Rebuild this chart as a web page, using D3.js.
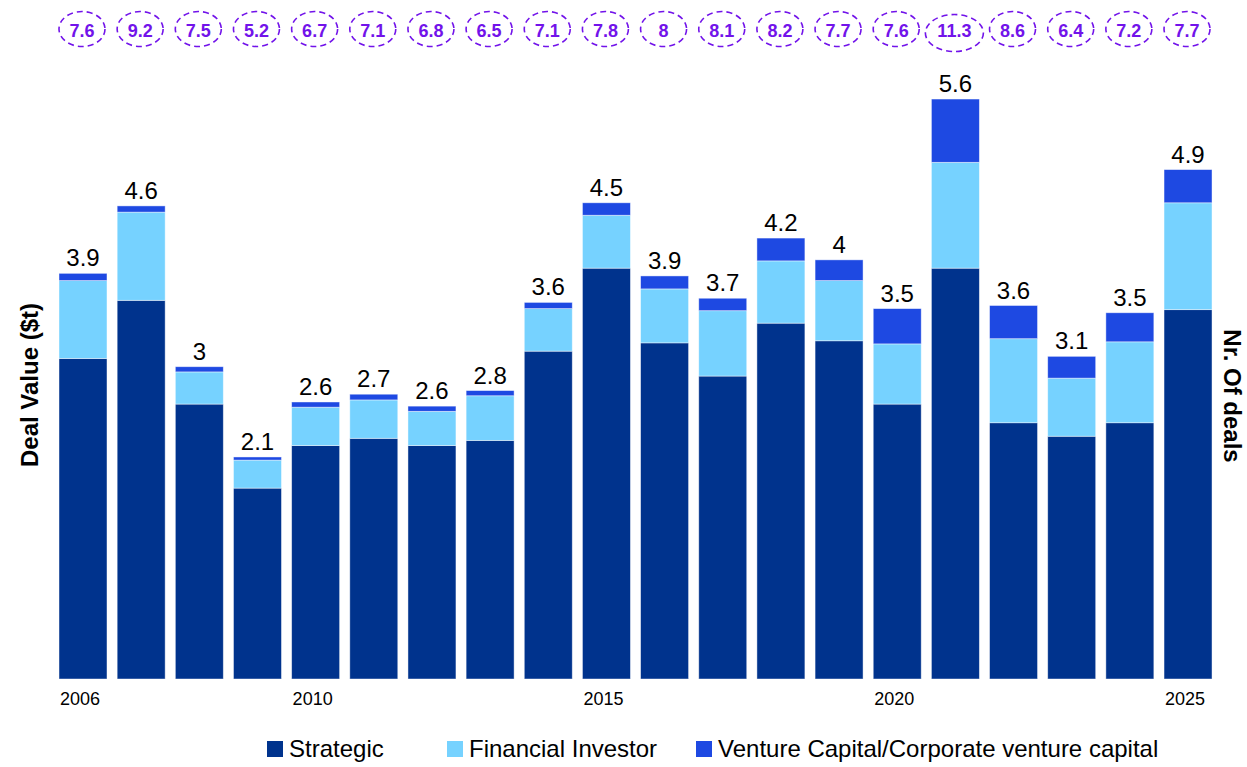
<!DOCTYPE html>
<html>
<head>
<meta charset="utf-8">
<script src="https://cdn.jsdelivr.net/npm/d3@7/dist/d3.min.js"></script>
<style>
  html, body { margin: 0; padding: 0; background: #fff; }
  svg { display: block; font-family: Arial, "Liberation Sans", Helvetica, sans-serif; }
</style>
</head>
<body>
<svg id="chart" width="1247" height="767"></svg>
<script>
const years = [2006,2007,2008,2009,2010,2011,2012,2013,2014,2015,2016,2017,2018,2019,2020,2021,2022,2023,2024,2025];
const tickYears = [2006, 2010, 2015, 2020, 2025];
const strategic = [3.09,3.65,2.65,1.84,2.25,2.32,2.25,2.30,3.16,3.96,3.24,2.92,3.43,3.26,2.65,3.96,2.47,2.34,2.47,3.56];
const financial = [0.75,0.85,0.31,0.27,0.37,0.37,0.33,0.43,0.41,0.51,0.52,0.63,0.60,0.58,0.58,1.02,0.81,0.56,0.78,1.03];
const venture   = [0.07,0.06,0.05,0.03,0.05,0.055,0.05,0.05,0.06,0.12,0.125,0.12,0.22,0.20,0.34,0.61,0.32,0.21,0.28,0.32];
const totalLabels = ["3.9","4.6","3","2.1","2.6","2.7","2.6","2.8","3.6","4.5","3.9","3.7","4.2","4","3.5","5.6","3.6","3.1","3.5","4.9"];
const dealCounts = ["7.6","9.2","7.5","5.2","6.7","7.1","6.8","6.5","7.1","7.8","8","8.1","8.2","7.7","7.6","11.3","8.6","6.4","7.2","7.7"];
const seriesNames = ["Strategic", "Financial Investor", "Venture Capital/Corporate venture capital"];
const seriesKeys = ["strategic", "financial", "venture"];
const colors = ["#00338D", "#76D2FF", "#1E49E2"];
const purple = "#7213EA";

const svg = d3.select("#chart");

const rows = years.map((y, i) => ({ year: y, strategic: strategic[i], financial: financial[i], venture: venture[i], label: totalLabels[i], deals: dealCounts[i] }));

const x = d3.scaleBand().domain(years).range([53.92, 1217.1]).paddingInner(0.175).paddingOuter(0.0875);
const y = d3.scaleLinear().domain([0, 6]).range([679, 56.5]);

const stack = d3.stack().keys(seriesKeys);
const stacked = stack(rows);

const color = d3.scaleOrdinal().domain(seriesKeys).range(colors);

svg.append("g").selectAll("g")
  .data(stacked)
  .join("g")
  .attr("fill", d => color(d.key))
  .selectAll("rect")
  .data(d => d)
  .join("rect")
  .attr("x", d => x(d.data.year))
  .attr("y", d => y(d[1]))
  .attr("width", x.bandwidth())
  .attr("height", d => y(d[0]) - y(d[1]))
  .attr("stroke", "rgba(255,255,255,0.55)")
  .attr("stroke-width", 0.8);

// total labels
svg.append("g").selectAll("text")
  .data(rows)
  .join("text")
  .attr("x", d => x(d.year) + x.bandwidth() / 2)
  .attr("y", d => y(d.strategic + d.financial + d.venture) - 7)
  .attr("text-anchor", "middle")
  .attr("font-size", 24)
  .attr("fill", "#000")
  .text(d => d.label);

// deal count ellipses
const dg = svg.append("g").selectAll("g")
  .data(rows)
  .join("g")
  .attr("transform", d => `translate(${x(d.year) + x.bandwidth() / 2 - 1},0)`);

dg.append("ellipse")
  .attr("cx", 0)
  .attr("cy", d => d.deals.length > 3 ? 33 : 29)
  .attr("rx", d => d.deals.length > 3 ? 29 : 23)
  .attr("ry", d => d.deals.length > 3 ? 18.5 : 17.5)
  .attr("fill", "none")
  .attr("stroke", purple)
  .attr("stroke-width", 1.6)
  .attr("stroke-dasharray", "6,4");

dg.append("text")
  .attr("x", 0)
  .attr("y", 36.5)
  .attr("text-anchor", "middle")
  .attr("font-size", 18)
  .attr("font-weight", "bold")
  .attr("fill", purple)
  .text(d => d.deals);

// x axis tick labels
const xAxis = d3.axisBottom(x).tickValues(tickYears).tickSize(0).tickPadding(0);
const gx = svg.append("g").attr("transform", "translate(-3,692)").call(xAxis);
gx.select(".domain").remove();
gx.selectAll("text").attr("font-size", 18).attr("fill", "#000").attr("font-family", "Arial, 'Liberation Sans', sans-serif").attr("dy", "0.71em");

// axis titles
svg.append("text")
  .attr("transform", "translate(38,385) rotate(-90)")
  .attr("text-anchor", "middle")
  .attr("font-size", 24)
  .attr("font-weight", "bold")
  .attr("fill", "#000")
  .text("Deal Value ($t)");

svg.append("text")
  .attr("transform", "translate(1224,396) rotate(90)")
  .attr("text-anchor", "middle")
  .attr("font-size", 24)
  .attr("font-weight", "bold")
  .attr("fill", "#000")
  .text("Nr. Of deals");

// legend
const legendX = [267, 447, 696];
const lg = svg.append("g").selectAll("g")
  .data(seriesNames)
  .join("g")
  .attr("transform", (d, i) => `translate(${legendX[i]},741)`);
lg.append("rect").attr("width", 16).attr("height", 16).attr("fill", (d, i) => colors[i]);
lg.append("text").attr("x", 22).attr("y", 16).attr("font-size", 24).attr("fill", "#000").text(d => d);
</script>
</body>
</html>
